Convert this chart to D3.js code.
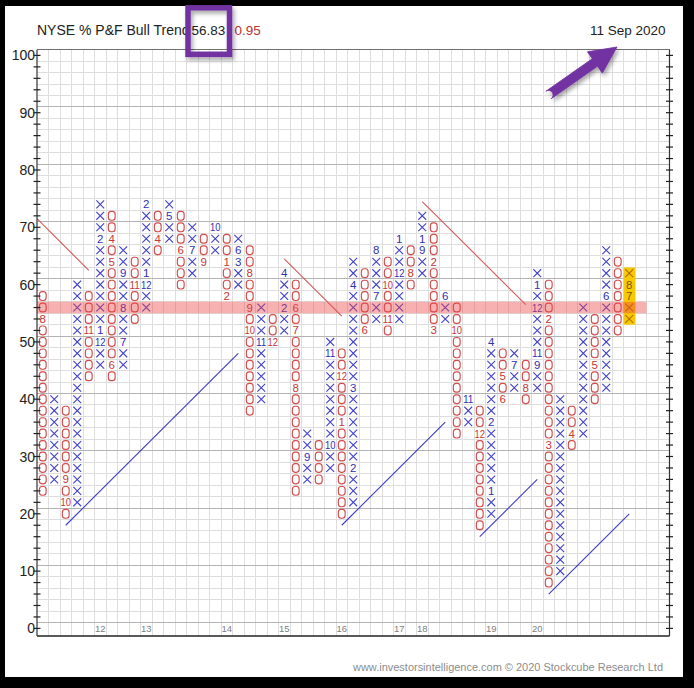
<!DOCTYPE html>
<html>
<head>
<meta charset="utf-8">
<script src="https://cdn.jsdelivr.net/npm/d3@7"></script>
<style>
  html, body { margin: 0; padding: 0; background: #000; }
  svg { display: block; }
</style>
</head>
<body>
<svg id="chart" width="694" height="688"></svg>
<script>
// NYSE % P&F Bull Trend — point & figure columns, 2-point boxes
const columnKinds = ["O","X","O","X","O","X","O","X","O","X","O","X","O","X","O","X","O","X","O","X",
                     "O","X","O","X","O","X","O","X","O","X","O","X","O","X","O","X","O","X","O","X",
                     "O","X","O","X","O","X","O","X","O","X","O","X"];
const columnLows  = [24,26,20,22,44,46,44,46,54,56,66,68,60,62,64,66,58,60,38,40,
                     50,52,24,26,26,28,20,22,52,54,52,54,60,62,52,54,34,36,18,20,
                     40,42,40,42, 8,10,32,34,40,42,52,54];
const columnHighs = [58,40,38,60,58,74,72,66,64,74,72,74,72,70,68,70,68,68,66,56,
                     54,62,60,34,32,50,48,64,62,66,64,68,66,72,70,58,56,40,38,50,
                     48,48,46,62,60,40,38,56,54,66,64,62];

// month numbers written in place of a box: [column, box value, month]
const monthMarks = [
  [0,54,"8"], [2,26,"9"], [2,22,"10"], [4,52,"11"],
  [5,50,"12"], [5,52,"1"], [5,68,"2"],
  [6,68,"4"], [6,64,"5"], [6,46,"6"],
  [7,50,"7"], [7,56,"8"], [7,62,"9"],
  [8,60,"11"], [9,60,"12"], [9,62,"1"], [9,74,"2"],
  [10,68,"4"], [11,72,"5"], [12,66,"6"], [13,66,"7"], [14,64,"9"], [15,70,"10"],
  [16,64,"1"], [16,58,"2"], [17,64,"3"], [17,66,"6"],
  [18,62,"8"], [18,56,"9"], [18,52,"10"], [19,50,"11"], [20,50,"12"],
  [21,56,"2"], [21,62,"4"], [22,56,"6"], [22,52,"7"], [22,42,"8"],
  [23,30,"9"], [25,32,"10"], [25,48,"11"], [26,44,"12"], [26,36,"1"],
  [27,28,"2"], [27,42,"3"], [27,60,"4"], [28,52,"6"], [29,58,"7"], [29,66,"8"],
  [30,60,"10"], [30,54,"11"], [31,62,"12"], [31,68,"1"], [32,62,"8"],
  [33,66,"9"], [33,68,"1"], [34,64,"2"], [34,52,"3"], [35,58,"6"],
  [36,52,"10"], [37,40,"11"], [38,34,"12"],
  [39,24,"1"], [39,36,"2"], [39,50,"4"], [40,44,"5"], [40,40,"6"],
  [41,46,"7"], [42,42,"8"],
  [43,46,"9"], [43,48,"11"], [43,56,"12"], [43,60,"1"],
  [44,54,"2"], [44,32,"3"], [46,34,"4"], [48,46,"5"], [49,58,"6"],
  [51,58,"7"], [51,60,"8"]
];

const yearLabels  = ["12","13","14","15","16","17","18","19","20"];
const yearColumns = [5, 9, 16, 21, 26, 31, 33, 39, 43];
const yTickValues = [0,10,20,30,40,50,60,70,80,90,100];

const currentLevel = 56;
const currentColumn = 51;
const titleText = "NYSE % P&F Bull Trend";
const lastValue = "56.83";
const lastChange = "0.95";
const dateText = "11 Sep 2020";
const footerText = "www.investorsintelligence.com  \u00A9 2020 Stockcube Research Ltd";

// 45-degree trend lines, endpoints as [column position, value]
const resistanceLines = [
  [[0, 71.5], [4.5, 62.5]],
  [[21.5, 64.5], [26.5, 54.5]],
  [[33.5, 74.5], [42.5, 56.5]]
];
const supportLines = [
  [[2.5, 18], [17.5, 48]],
  [[26.5, 18], [35.5, 36]],
  [[38.5, 16], [43.5, 26]],
  [[44.5, 6], [51.5, 20]]
];

// ---------------------------------------------------------------
const svg = d3.select("#chart");
const nCols = 55;
const x = d3.scaleLinear().domain([0, nCols]).range([37, 669.5]);
const y = d3.scaleLinear().domain([0, 100]).range([628.4, 55.4]);
const colC = i => x(i + 0.5);
const plotTop = y(101), plotBottom = 636;
const xL = x(0), xR = x(nCols);

const font = "'Liberation Sans', Arial, sans-serif";
const BLUE = "#4040cc", RED = "#d44c4c";
const BLUE_TXT = "#3030b4", RED_TXT = "#c83636";

const defs = svg.append("defs");
const sh = defs.append("filter").attr("id", "shadow")
  .attr("x", "-30%").attr("y", "-30%").attr("width", "160%").attr("height", "160%");
sh.append("feDropShadow").attr("dx", 2).attr("dy", 3).attr("stdDeviation", 2)
  .attr("flood-color", "#000").attr("flood-opacity", 0.35);

// page panel
svg.append("rect").attr("x", 5).attr("y", 6).attr("width", 678).attr("height", 671).attr("fill", "#fff");

// grid
const grid = svg.append("g");
grid.selectAll("line.v").data(d3.range(1, nCols)).join("line")
  .attr("x1", d => x(d)).attr("x2", d => x(d))
  .attr("y1", plotTop).attr("y2", plotBottom)
  .attr("stroke", "#dedede").attr("stroke-width", 1).attr("shape-rendering", "crispEdges");
grid.selectAll("line.h").data(d3.range(1, 100, 2)).join("line")
  .attr("x1", xL).attr("x2", xR)
  .attr("y1", d => y(d)).attr("y2", d => y(d))
  .attr("stroke", d => (d % 10 === 1 ? "#b4b4b4" : "#dedede"))
  .attr("stroke-width", 1).attr("shape-rendering", "crispEdges");

// current column highlight
svg.append("rect")
  .attr("x", x(currentColumn)).attr("width", x(1) - x(0))
  .attr("y", y(columnHighs[currentColumn] + 1))
  .attr("height", y(columnLows[currentColumn] - 1) - y(columnHighs[currentColumn] + 1))
  .attr("fill", "#f7c900");

// boxes
const markMap = new Map(monthMarks.map(d => [d[0] + ":" + d[1], d[2]]));
const cells = [];
columnKinds.forEach((k, i) => {
  for (let v = columnLows[i]; v <= columnHighs[i]; v += 2) {
    cells.push({ col: i, v, kind: k, label: markMap.get(i + ":" + v) });
  }
});

const marks = svg.append("g");
cells.forEach(c => {
  const cx = colC(c.col), cy = y(c.v);
  const hot = c.col === currentColumn;
  if (c.label) {
    const t = marks.append("text")
      .attr("x", cx).attr("y", cy + 4)
      .attr("text-anchor", "middle")
      .attr("font-family", font).attr("font-size", 11.5)
      .attr("fill", hot ? "#7a5a00" : (c.kind === "X" ? BLUE_TXT : RED_TXT))
      .text(c.label);
    if (c.label.length > 1) t.attr("textLength", 10.5).attr("lengthAdjust", "spacingAndGlyphs");
  } else if (c.kind === "X") {
    marks.append("path")
      .attr("d", `M${cx - 3.9},${cy - 3.9}L${cx + 3.9},${cy + 3.9}M${cx + 3.9},${cy - 3.9}L${cx - 3.9},${cy + 3.9}`)
      .attr("stroke", hot ? "#b86e00" : BLUE).attr("stroke-width", 1.1).attr("fill", "none");
  } else {
    marks.append("rect")
      .attr("x", cx - 3.4).attr("y", cy - 4.4).attr("width", 6.8).attr("height", 8.8)
      .attr("rx", 2.8).attr("ry", 3)
      .attr("stroke", RED).attr("stroke-width", 1.15).attr("fill", "none");
  }
});

// current level band
svg.append("rect")
  .attr("x", xL).attr("width", x(53) - xL)
  .attr("y", y(currentLevel + 1)).attr("height", y(currentLevel - 1) - y(currentLevel + 1))
  .attr("fill", "rgba(238,70,70,0.42)");

// trend lines
const line = d3.line().x(d => x(d[0])).y(d => y(d[1]));
svg.append("g").selectAll("path").data(resistanceLines).join("path")
  .attr("d", line).attr("stroke", "#d45a5a").attr("stroke-width", 1.1).attr("fill", "none");
svg.append("g").selectAll("path").data(supportLines).join("path")
  .attr("d", line).attr("stroke", "#3a3ac4").attr("stroke-width", 1.1).attr("fill", "none");

// frame
svg.append("line").attr("x1", xL).attr("x2", xR).attr("y1", plotTop).attr("y2", plotTop)
  .attr("stroke", "#707070").attr("stroke-width", 1).attr("shape-rendering", "crispEdges");
svg.append("line").attr("x1", xL).attr("x2", xR).attr("y1", plotBottom).attr("y2", plotBottom)
  .attr("stroke", "#222").attr("stroke-width", 1.5);
[xL, xR].forEach(xx => {
  svg.append("line").attr("x1", xx).attr("x2", xx).attr("y1", plotTop).attr("y2", plotBottom)
    .attr("stroke", "#333").attr("stroke-width", 1.2);
});

// axis ticks (every box) and labels
const tickVals = d3.range(0, 101, 2);
svg.append("g").selectAll("line").data(tickVals).join("line")
  .attr("x1", xL - 3.5).attr("x2", xL + 3.5).attr("y1", d => y(d)).attr("y2", d => y(d))
  .attr("stroke", "#222").attr("stroke-width", 1.2);
svg.append("g").selectAll("line").data(tickVals).join("line")
  .attr("x1", xR - 3.5).attr("x2", xR + 3.5).attr("y1", d => y(d)).attr("y2", d => y(d))
  .attr("stroke", "#222").attr("stroke-width", 1.2);
svg.append("g").selectAll("text").data(yTickValues).join("text")
  .attr("x", 35).attr("y", d => y(d) + 5)
  .attr("text-anchor", "end").attr("font-family", font).attr("font-size", 14)
  .attr("fill", "#222").text(d => d);

// year markers along the bottom row
svg.append("g").selectAll("text").data(yearLabels).join("text")
  .attr("x", (d, i) => colC(yearColumns[i])).attr("y", y(0) + 4)
  .attr("text-anchor", "middle").attr("font-family", font).attr("font-size", 9.5)
  .attr("fill", "#808080").text(d => d);

// header
svg.append("text").attr("x", 37).attr("y", 34.5).attr("font-family", font).attr("font-size", 14)
  .attr("fill", "#222").text(titleText);
svg.append("rect").attr("x", 190.5).attr("y", 20).attr("width", 38).attr("height", 20).attr("fill", "#fff");
svg.append("text").attr("x", 191.5).attr("y", 34.5).attr("font-family", font).attr("font-size", 13.5)
  .attr("fill", "#222").text(lastValue);
svg.append("text").attr("x", 234.5).attr("y", 34.5).attr("font-family", font).attr("font-size", 13.5)
  .attr("fill", "#c03030").text(lastChange);
svg.append("text").attr("x", 665.5).attr("y", 34.5).attr("text-anchor", "end")
  .attr("font-family", font).attr("font-size", 13.5).attr("fill", "#222").text(dateText);

// footer
svg.append("text").attr("x", 663).attr("y", 671).attr("text-anchor", "end")
  .attr("font-family", font).attr("font-size", 10.5).attr("fill", "#8c8c8c")
  .attr("textLength", 310).attr("lengthAdjust", "spacingAndGlyphs").text(footerText);

// callouts: box around the latest reading and arrow to the date
const PURPLE = "#7232a2";
svg.append("rect").attr("x", 188).attr("y", 7.8).attr("width", 41.5).attr("height", 46.5)
  .attr("fill", "none").attr("stroke", PURPLE).attr("stroke-width", 5.5)
  .attr("filter", "url(#shadow)");

const tail = [548.5, 95], tip = [617, 47];
const dx = tip[0] - tail[0], dy = tip[1] - tail[1];
const L = Math.hypot(dx, dy), ux = dx / L, uy = dy / L, nx = -uy, ny = ux;
const headLen = 27, headHalf = 13, shaftHalf = 4.6;
const bx = tip[0] - ux * headLen, by = tip[1] - uy * headLen;
const arrowPath = d3.path();
arrowPath.moveTo(tail[0] + nx * shaftHalf, tail[1] + ny * shaftHalf);
arrowPath.lineTo(bx + nx * shaftHalf, by + ny * shaftHalf);
arrowPath.lineTo(bx + nx * headHalf, by + ny * headHalf);
arrowPath.lineTo(tip[0], tip[1]);
arrowPath.lineTo(bx - nx * headHalf, by - ny * headHalf);
arrowPath.lineTo(bx - nx * shaftHalf, by - ny * shaftHalf);
arrowPath.lineTo(tail[0] - nx * shaftHalf, tail[1] - ny * shaftHalf);
arrowPath.arc(tail[0], tail[1], shaftHalf, Math.atan2(-ny, -nx), Math.atan2(ny, nx), false);
arrowPath.closePath();
svg.append("path").attr("d", arrowPath.toString()).attr("fill", PURPLE)
  .attr("stroke", PURPLE).attr("stroke-width", 0.8).attr("stroke-linejoin", "round")
  .attr("filter", "url(#shadow)");
</script>
</body>
</html>
